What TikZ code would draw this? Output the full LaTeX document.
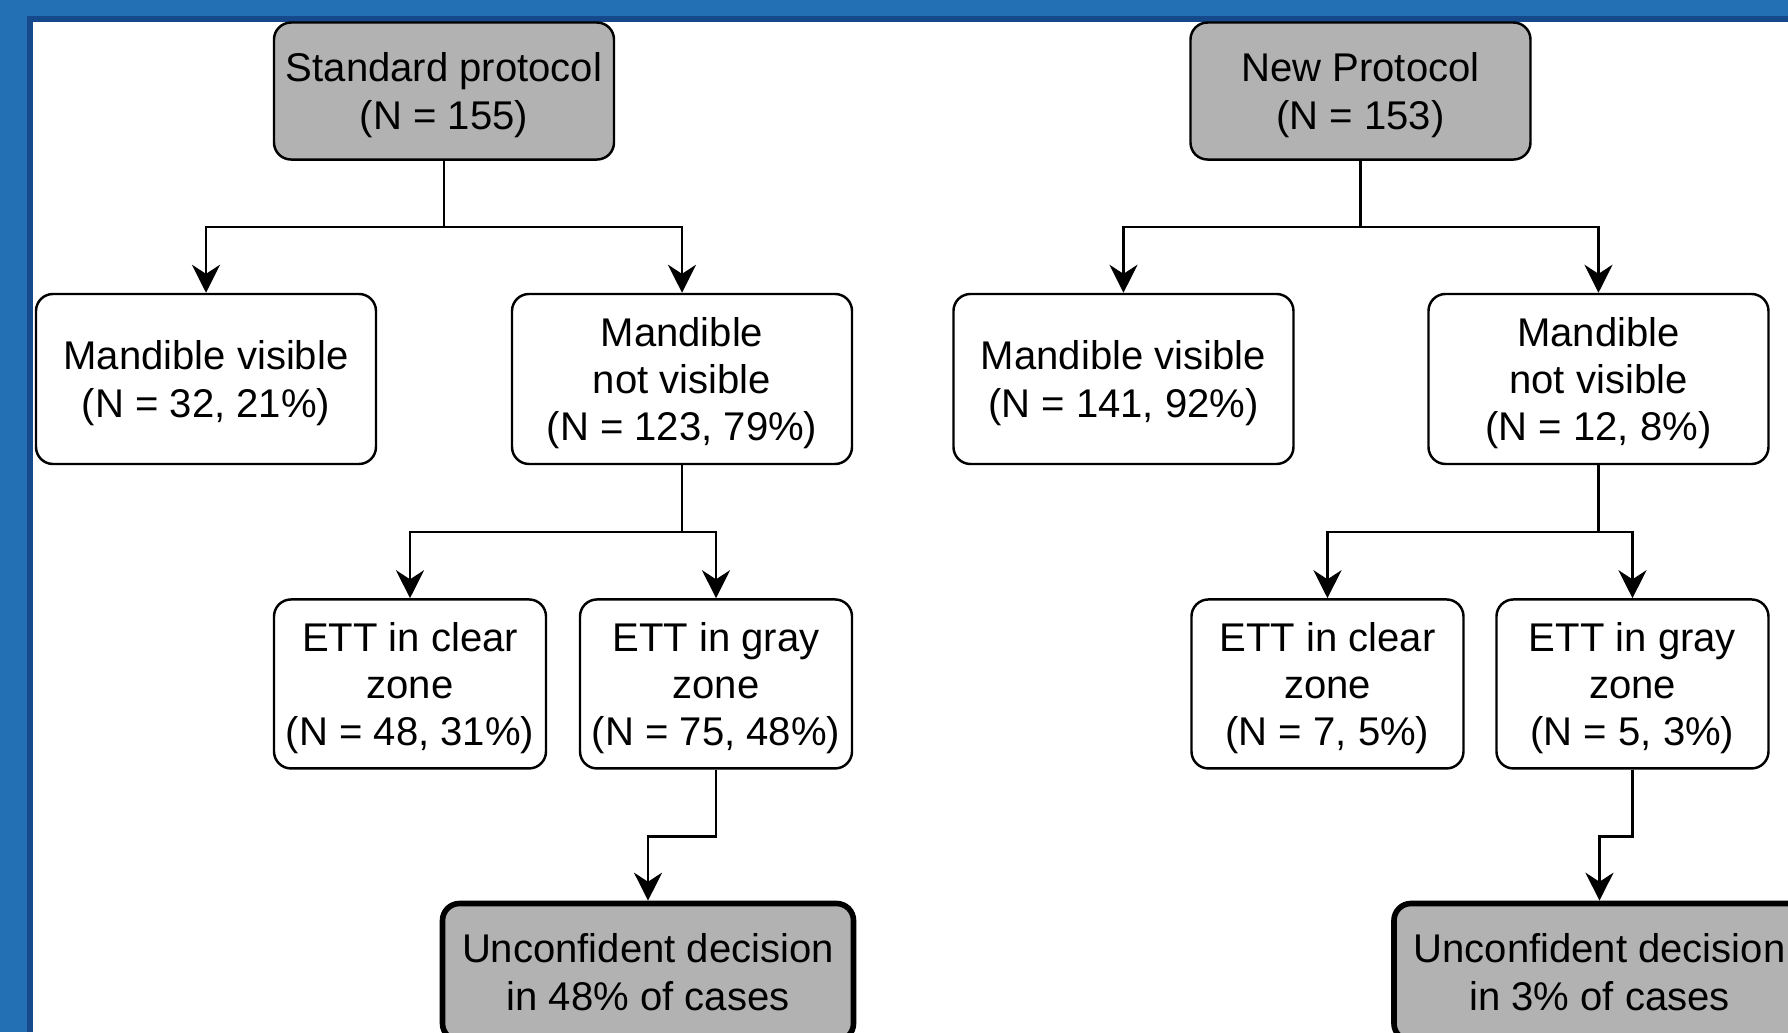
\documentclass[tikz,border=0pt]{standalone}
\usepackage{fontspec}
\setmainfont{Liberation Sans}
\usetikzlibrary{positioning}
\usetikzlibrary{arrows.meta}
\definecolor{frameblue}{RGB}{36,112,180}
\definecolor{frameedge}{RGB}{22,72,140}
\definecolor{boxgray}{RGB}{178,178,178}

\begin{document}
\begin{tikzpicture}[
    font=\fontsize{11.4}{13.4}\selectfont,
    box/.style={draw, rounded corners=0.17cm, line width=0.7pt, align=center, inner xsep=2pt, text depth=0pt, minimum width=3.4cm, minimum height=1.7cm},
    head/.style={box, fill=boxgray, text depth=-1.8pt, minimum height=1.37cm},
    ett/.style={box, minimum width=2.72cm, minimum height=1.69cm},
    result/.style={box, fill=boxgray, line width=1.6pt, minimum width=4.11cm, minimum height=1.37cm},
    >={Stealth[length=0.28cm, width=0.28cm]},  % Arrow style
    line width=0.7pt
]
    % Frame
    \fill[frameblue] (0,0) rectangle (17.88,-10.32);
    \fill[frameedge] (0.27,-0.16) rectangle (17.88,-10.32);
    \fill[white] (0.33,-0.22) rectangle (17.88,-10.32);
    \useasboundingbox (0,0) rectangle (17.88,-10.32);

    % Protocols
    \node[head] (std) at (4.44,-0.91) {Standard protocol\\(N = 155)};
    \node[head, right=5.74cm of std] (newp) {New Protocol\\(N = 153)};

    % Mandible visibility
    \node[box, below=1.32cm of std, xshift=-2.38cm] (mvL) {Mandible visible\\(N = 32, 21\%)};
    \node[box, below=1.32cm of std, xshift=2.38cm] (nvL) {Mandible\\not visible\\(N = 123, 79\%)};
    \node[box, below=1.32cm of newp, xshift=-2.37cm] (mvR) {Mandible visible\\(N = 141, 92\%)};
    \node[box, below=1.32cm of newp, xshift=2.38cm] (nvR) {Mandible\\not visible\\(N = 12, 8\%)};

    % ETT zones
    \node[ett, below=1.33cm of nvL, xshift=-2.72cm] (ettcL) {ETT in clear\\zone\\(N = 48, 31\%)};
    \node[ett, below=1.33cm of nvL, xshift=0.34cm] (ettgL) {ETT in gray\\zone\\(N = 75, 48\%)};
    \node[ett, below=1.33cm of nvR, xshift=-2.71cm] (ettcR) {ETT in clear\\zone\\(N = 7, 5\%)};
    \node[ett, below=1.33cm of nvR, xshift=0.34cm] (ettgR) {ETT in gray\\zone\\(N = 5, 3\%)};

    % Decisions
    \node[result, below=1.31cm of ettgL, xshift=-0.68cm] (uncL) {Unconfident decision\\in 48\% of cases};
    \node[result, below=1.31cm of ettgR, xshift=-0.33cm] (uncR) {Unconfident decision\\in 3\% of cases};

    % Connections
    \draw[->] (std.south) -- ++(0,-0.66) -| (mvL.north);
    \draw[->] (std.south) -- ++(0,-0.66) -| (nvL.north);
    \draw[->] (newp.south) -- ++(0,-0.66) -| (mvR.north);
    \draw[->] (newp.south) -- ++(0,-0.66) -| (nvR.north);
    \draw[->] (nvL.south) -- ++(0,-0.67) -| (ettcL.north);
    \draw[->] (nvL.south) -- ++(0,-0.67) -| (ettgL.north);
    \draw[->] (nvR.south) -- ++(0,-0.67) -| (ettcR.north);
    \draw[->] (nvR.south) -- ++(0,-0.67) -| (ettgR.north);
    \draw[->] (ettgL.south) -- ++(0,-0.67) -| (uncL.north);
    \draw[->] (ettgR.south) -- ++(0,-0.67) -| (uncR.north);
\end{tikzpicture}
\end{document}
